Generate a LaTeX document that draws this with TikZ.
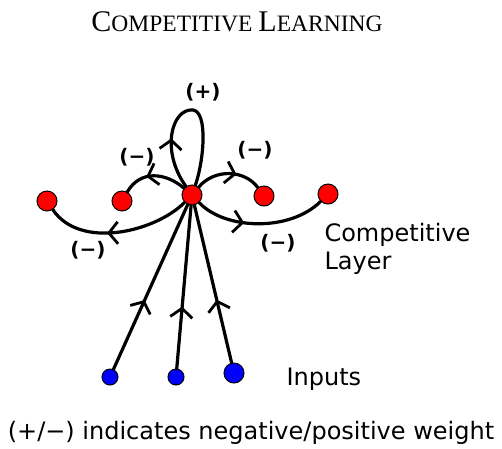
\documentclass[tikz,border=0pt]{standalone}
\usepackage{fontspec}
\setmainfont{Liberation Serif}
\newfontfamily\genevafont{DejaVu Sans}
\usetikzlibrary{arrows.meta,decorations.markings}

\newcommand{\capword}[2]{{\fontsize{30}{32}\selectfont #1}{\fontsize{23.5}{25}\selectfont #2}}

\begin{document}
\begin{tikzpicture}[
        x=1pt, y=-1pt,
        redunit/.style={draw, circle, fill=red, line width=1pt, minimum size=20pt, inner sep=0pt},
        blueunit/.style={draw, circle, fill=blue, line width=1pt, minimum size=#1, inner sep=0pt},
        wire/.style={line width=3.2pt, line cap=round, line join=round},
        midarrow/.style={decoration={markings, mark=at position #1 with {\arrow{Straight Barb[length=9pt, width=22pt, line width=2.8pt]}}}, postaction=decorate},
        sign/.style={font=\genevafont\bfseries\fontsize{20}{20}\selectfont},
        plain/.style={font=\genevafont\fontsize{24}{28}\selectfont, align=left}
    ]
        \useasboundingbox (0,0) rectangle (502,448);

        % title
        \node (title) at (237,22) {\capword{C}{OMPETITIVE}\hspace{6pt}\capword{L}{EARNING}};

        % competitive layer
        \node[redunit] (win) at (192,195) {};
        \node[redunit] (farleft) at (47,201) {};
        \node[redunit] (nearleft) at (122,201) {};
        \node[redunit] (nearright) at (264,196) {};
        \node[redunit] (farright) at (328,194) {};

        % inputs
        \node[blueunit=16pt] (in1) at (110,377) {};
        \node[blueunit=16pt] (in2) at (176,377) {};
        \node[blueunit=20pt] (in3) at (234,373) {};

        \draw[wire, midarrow=0.42] (in1) -- (win);
        \draw[wire, midarrow=0.38] (in2) -- (win);
        \draw[wire, midarrow=0.4] (in3) -- (win);

        % self loop and lateral weights
        \draw[wire, midarrow=0.3] (win) .. controls (160,150) and (172,108) .. (193,110)
            .. controls (208,112) and (204,160) .. (win);
        \draw[wire, midarrow=0.62] (win) .. controls (165,172) and (140,170) .. (nearleft);
        \draw[wire, midarrow=0.62] (win) .. controls (215,168) and (245,170) .. (nearright);
        \draw[wire, midarrow=0.38] (win) .. controls (225,230) and (290,232) .. (farright);
        \draw[wire, midarrow=0.58] (win) .. controls (155,232) and (80,250) .. (farleft);

        % signs
        \node[sign] (plus) at (203,92) {(+)};
        \node[sign] (m1) at (137,157) {(−)};
        \node[sign] (m2) at (255,150) {(−)};
        \node[sign] (m3) at (278,243) {(−)};
        \node[sign] (m4) at (88,250) {(−)};

        % texts
        \node[plain, anchor=west] (layer) at (321,249) {Competitive\\Layer};
        \node[plain, anchor=west] (inputs) at (283,379) {Inputs};
        \node[plain] (note) at (251,433) {(+/−) indicates negative/positive weight};
    \end{tikzpicture}
\end{document}
